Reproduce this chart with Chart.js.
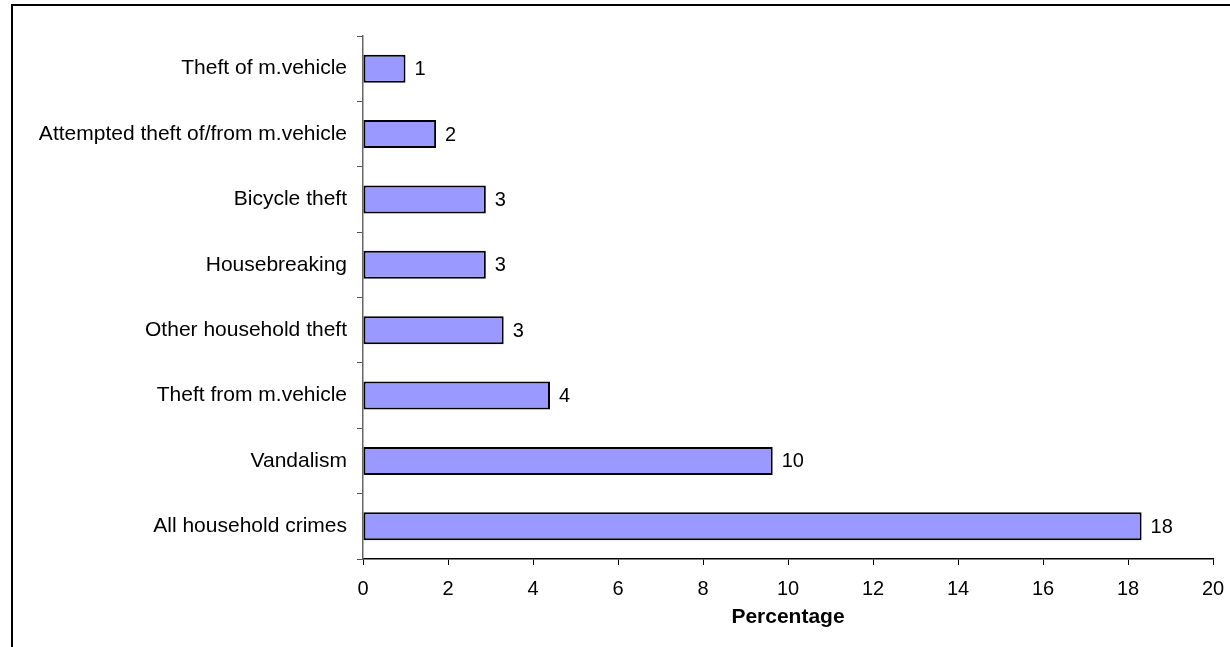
<!DOCTYPE html>
<html>
<head>
<meta charset="utf-8">
<script src="https://cdn.jsdelivr.net/npm/chart.js@4"></script>
<style>
  html, body { margin: 0; padding: 0; background: #fff; overflow: hidden; }
  #wrap { position: relative; width: 1230px; height: 647px; }
  #frame { position: absolute; left: 11px; top: 4px; right: -20px; bottom: -20px; border: 2px solid #000; pointer-events: none; }
</style>
</head>
<body>
<div id="wrap">
  <canvas id="grafico" width="1230" height="647"></canvas>
  <div id="frame"></div>
</div>
<script>
// categorias de cima para baixo
const categorias = ['Theft of m.vehicle', 'Attempted theft of/from m.vehicle', 'Bicycle theft', 'Housebreaking',
    'Other household theft', 'Theft from m.vehicle', 'Vandalism', 'All household crimes'];
const valores = [1.0, 1.72, 2.89, 2.89, 3.31, 4.4, 9.64, 18.32];
const rotulos = ['1', '2', '3', '3', '3', '4', '10', '18'];
const ticksX = [0, 2, 4, 6, 8, 10, 12, 14, 16, 18, 20];

const fonte = "'Liberation Sans', Arial, sans-serif";

// rotulos no fim das barras
const rotulosPlugin = {
    id: 'rotulos',
    afterDatasetsDraw(chart) {
        const ctx = chart.ctx;
        const meta = chart.getDatasetMeta(0);
        ctx.save();
        ctx.font = '20px ' + fonte;
        ctx.fillStyle = '#000';
        ctx.textAlign = 'left';
        ctx.textBaseline = 'middle';
        meta.data.forEach((bar, i) => {
            ctx.fillText(rotulos[i], bar.x + 9, bar.y + 1);
        });
        ctx.restore();
    }
};

const ctx = document.getElementById('grafico').getContext('2d');
const grafico = new Chart(ctx, {
    type: 'bar',
    data: {
        labels: categorias,
        datasets: [{
            data: valores,
            backgroundColor: '#9999FF',
            borderColor: '#000000',
            borderWidth: 2,
            borderSkipped: false,
            barPercentage: 0.43,
            categoryPercentage: 1
        }]
    },
    options: {
        indexAxis: 'y',
        responsive: false,
        animation: false,
        layout: {
            padding: { top: 36, right: 17, left: 0, bottom: 0 }
        },
        plugins: {
            legend: { display: false },
            tooltip: { enabled: false }
        },
        scales: {
            x: {
                min: 0,
                max: 20,
                afterFit(scale) {
                    scale.height = 88;
                    scale.paddingLeft = 0;
                    scale.paddingRight = 0;
                },
                afterBuildTicks(scale) { scale.ticks = ticksX.map(v => ({ value: v })); },
                ticks: {
                    color: '#000',
                    font: { family: fonte, size: 20 },
                    padding: 12,
                    maxRotation: 0
                },
                grid: {
                    drawOnChartArea: false,
                    drawTicks: true,
                    tickLength: 6,
                    color: '#000'
                },
                border: { display: true, color: '#000', width: 1.5 },
                title: {
                    display: true,
                    text: 'Percentage',
                    color: '#000',
                    font: { family: fonte, size: 21, weight: 'bold' },
                    padding: { top: 0, bottom: 17 }
                }
            },
            y: {
                afterFit(scale) { scale.width = 363; },
                ticks: {
                    color: '#000',
                    font: { family: fonte, size: 21 },
                    padding: 10
                },
                grid: {
                    offset: true,
                    drawOnChartArea: false,
                    drawTicks: true,
                    tickLength: 6,
                    color: '#555'
                },
                border: { display: true, color: '#666', width: 1.5 }
            }
        }
    },
    plugins: [rotulosPlugin]
});
</script>
</body>
</html>
